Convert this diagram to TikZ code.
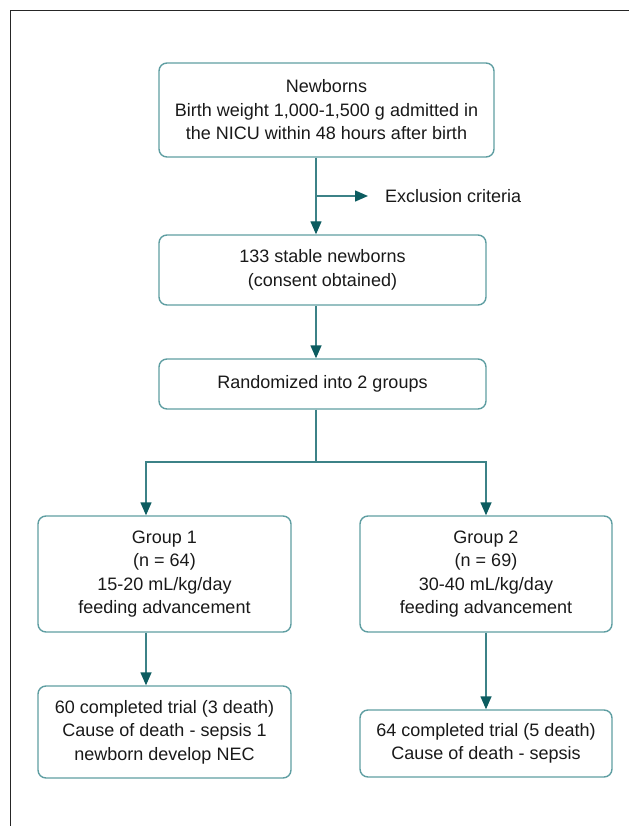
\documentclass[tikz,border=0pt]{standalone}
\usepackage{fontspec}
\setmainfont{Liberation Sans}
\usetikzlibrary{arrows.meta}
\definecolor{boxteal}{RGB}{95,158,162}
\definecolor{lineteal}{RGB}{60,130,135}
\definecolor{headteal}{RGB}{12,92,96}
\tikzset{
  flowbox/.style={draw=boxteal, line width=1.4pt, rounded corners=8pt, align=center,
    inner sep=0pt, font=\fontsize{18}{23.5}\selectfont, text=black!90},
  conn/.style={draw=lineteal, line width=1.4pt},
  arr/.style={conn, -{Triangle[length=13pt,width=11pt,color=headteal]}},
  frameline/.style={draw=black!85, line width=1.6pt}
}
\begin{document}
\begin{tikzpicture}[x=1pt,y=-1pt]
\useasboundingbox (0,0) rectangle (629,826);
\draw[frameline] (10.5,826) -- (10.5,10.5) -- (629,10.5);

\coordinate (sp) at (316,0);
\coordinate (lx) at (146,0);
\coordinate (rx) at (486,0);

\node[flowbox, minimum width=335pt, minimum height=94pt] (b1) at (326.5,110)
  {Newborns\\Birth weight 1,000-1,500 g admitted in\\the NICU within 48 hours after birth};
\node[flowbox, minimum width=327pt, minimum height=70pt] (b2) at (322.5,270)
  {133 stable newborns\\(consent obtained)};
\node[flowbox, minimum width=327pt, minimum height=50pt] (b3) at (322.5,384)
  {Randomized into 2 groups};
\node[font=\fontsize{18}{23.5}\selectfont, text=black!90, anchor=west, inner sep=0pt] (ex) at (385,196)
  {Exclusion criteria};
\node[flowbox, minimum width=253pt, minimum height=116pt] (g1) at (164.5,574)
  {Group 1\\(n = 64)\\15-20 mL/kg/day\\feeding advancement};
\node[flowbox, minimum width=252pt, minimum height=116pt] (g2) at (486,574)
  {Group 2\\(n = 69)\\30-40 mL/kg/day\\feeding advancement};
\node[flowbox, minimum width=253pt, minimum height=92pt] (o1) at (164.5,732)
  {60 completed trial (3 death)\\Cause of death - sepsis 1\\newborn develop NEC};
\node[flowbox, minimum width=252pt, minimum height=67pt] (o2) at (486,743.5)
  {64 completed trial (5 death)\\Cause of death - sepsis};

\coordinate (exj) at (316,196);
\coordinate (split) at (316,462);

\draw[arr] (b1.south -| sp) -- (b2.north -| sp);
\draw[arr] (exj) -- ([xshift=-17pt]ex.west);
\draw[arr] (b2.south -| sp) -- (b3.north -| sp);
\draw[conn] (b3.south -| sp) -- (split);
\draw[arr] (split) -| (g1.north -| lx);
\draw[arr] (split) -| (g2.north -| rx);
\draw[arr] (g1.south -| lx) -- (o1.north -| lx);
\draw[arr] (g2.south -| rx) -- (o2.north -| rx);
\end{tikzpicture}
\end{document}
